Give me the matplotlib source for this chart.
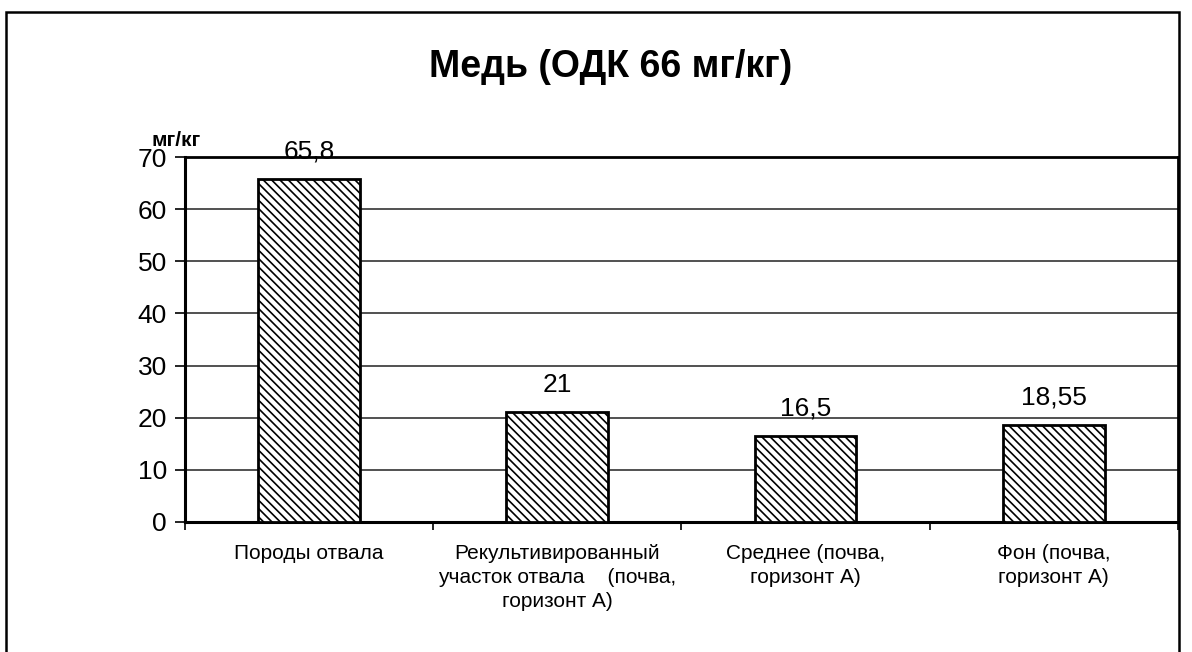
import matplotlib
matplotlib.use('Agg')

import matplotlib.pyplot as plt
from matplotlib.patches import Rectangle

# данные с графика
categories = [
    'Породы отвала',
    'Рекультивированный\nучасток отвала    (почва,\nгоризонт А)',
    'Среднее (почва,\nгоризонт А)',
    'Фон (почва,\nгоризонт А)',
]
values = [65.8, 21, 16.5, 18.55]
value_labels = ['65,8', '21', '16,5', '18,55']
y_ticks = [0, 10, 20, 30, 40, 50, 60, 70]

plt.rcParams['font.family'] = ['Liberation Sans', 'DejaVu Sans']

fig = plt.figure(figsize=(11.92, 6.52), dpi=100)
ax = fig.add_axes([0.1552, 0.1994, 0.8330, 0.5598])

x = list(range(len(categories)))
plt.rcParams['hatch.linewidth'] = 1.2
ax.bar(x, values, width=0.41, color='white', edgecolor='black',
       linewidth=2, hatch='\\\\\\\\', zorder=3)

for xi, v, lab in zip(x, values, value_labels):
    ax.annotate(lab, (xi, v), xytext=(0, 20), textcoords='offset points',
                ha='center', va='center', fontsize=19)

ax.set_xlim(-0.5, len(categories) - 0.5)
ax.set_ylim(0, 70)
ax.set_yticks(y_ticks)
ax.set_yticklabels([str(t) for t in y_ticks], fontsize=19)
ax.grid(axis='y', color='#222222', linewidth=1.1, zorder=0)

ax.set_xticks(x)
ax.set_xticklabels(categories, fontsize=15, linespacing=1.32)
ax.set_xticks([i - 0.5 for i in range(len(categories) + 1)], minor=True)
ax.tick_params(axis='x', which='major', length=0, pad=16)
ax.tick_params(axis='x', which='minor', length=6, width=1.2, direction='out')
ax.tick_params(axis='y', length=7, width=1.2, pad=6)

for side in ['left', 'bottom']:
    ax.spines[side].set_linewidth(2.2)
ax.spines['top'].set_linewidth(2)
ax.spines['right'].set_linewidth(2)

fig.text(0.512, 0.897, 'Медь (ОДК 66 мг/кг)', ha='center', va='center',
         fontsize=27, fontweight='bold')
fig.text(0.148, 0.785, 'мг/кг', ha='center', va='center',
         fontsize=15, fontweight='bold')

# внешняя рамка
fig.patches.append(Rectangle((0.005, -0.05), 0.984, 1.032, transform=fig.transFigure,
                             fill=False, edgecolor='black', linewidth=1.8))

plt.savefig('out.png', dpi=100)
plt.close(fig)
